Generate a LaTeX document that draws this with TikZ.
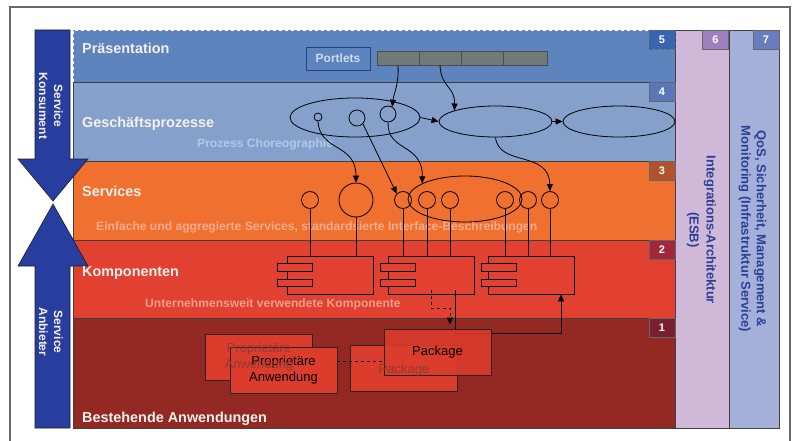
\documentclass[tikz,border=0pt]{standalone}
\usepackage{fontspec}
\setmainfont{Liberation Sans}
\usetikzlibrary{shapes.geometric,arrows.meta}
\definecolor{frameg}{RGB}{105,105,105}
\definecolor{lfive}{RGB}{94,132,190}
\definecolor{lfour}{RGB}{134,160,204}
\definecolor{lthree}{RGB}{240,112,48}
\definecolor{ltwo}{RGB}{226,64,48}
\definecolor{lone}{RGB}{148,40,34}
\definecolor{csix}{RGB}{208,184,216}
\definecolor{cseven}{RGB}{164,176,218}
\definecolor{barblue}{RGB}{40,62,158}
\definecolor{numfive}{RGB}{56,100,176}
\definecolor{numfour}{RGB}{92,118,186}
\definecolor{numthree}{RGB}{176,82,44}
\definecolor{numtwo}{RGB}{160,40,56}
\definecolor{numone}{RGB}{120,32,48}
\definecolor{numsix}{RGB}{158,128,192}
\definecolor{numseven}{RGB}{104,124,190}
\definecolor{coltext}{RGB}{42,64,150}
\definecolor{labwhite}{RGB}{244,240,238}
\definecolor{subblue}{RGB}{182,198,232}
\definecolor{suborange}{RGB}{244,172,142}
\definecolor{subred}{RGB}{240,160,140}
\definecolor{cellgray}{RGB}{112,122,120}
\definecolor{portborder}{RGB}{40,66,120}
\definecolor{porttext}{RGB}{205,218,238}
\definecolor{appred}{RGB}{220,60,44}
\definecolor{ghosttext}{RGB}{136,58,50}
\definecolor{barline}{RGB}{30,30,40}
\tikzset{
  laybox/.style={draw=black!75, line width=0.6pt},
  lbl/.style={anchor=base west, inner sep=0pt, text=labwhite, font=\bfseries\fontsize{14.4}{16}\selectfont},
  sublbl/.style={anchor=base west, inner sep=0pt, font=\bfseries\fontsize{12.1}{14}\selectfont},
  numbox/.style={minimum width=26pt, minimum height=19pt, inner sep=0pt, text=white, font=\bfseries\fontsize{11}{11}\selectfont, draw=black!60, line width=0.4pt},
  circ/.style={circle, draw, line width=0.8pt, inner sep=0pt},
  oval/.style={ellipse, draw, line width=0.8pt, inner sep=0pt},
  comp/.style={draw, rectangle, line width=0.8pt, minimum width=86pt, minimum height=38pt, inner sep=0pt},
  tabbox/.style={draw, fill=ltwo, line width=0.8pt, minimum width=35pt, minimum height=7.5pt, inner sep=0pt},
  cell/.style={draw=black!70, fill=cellgray, line width=0.6pt, minimum height=14pt, inner sep=0pt},
  conn/.style={line width=0.8pt, -{Triangle[length=7pt,width=6pt]}},
  appbox/.style={draw=black!85, line width=0.8pt, fill=appred, minimum width=107pt, minimum height=46pt, inner sep=0pt, align=center, font=\fontsize{13}{16}\selectfont},
  ghost/.style={align=center, text=ghosttext, text opacity=0.9, inner sep=0pt, font=\fontsize{13}{16}\selectfont},
  sidetext/.style={rotate=-90, align=center, inner sep=0pt},
}
\begin{document}
\begin{tikzpicture}[x=1pt,y=-1pt]
\useasboundingbox (0,0) rectangle (794,441);
\fill[white] (0,0) rectangle (794,441);
% outer frame
\draw[frameg, line width=1.5pt] (10,450) -- (10,7) -- (790,7) -- (790,450);
% layers
\fill[lfive] (73,30) rectangle (675,82);
\draw[white, dashed, line width=0.6pt] (73,82) -- (73,30) -- (675,30);
\draw[laybox] (73,82) -- (675,82);
\draw[laybox, fill=lfour] (73,82) rectangle (675,161);
\draw[laybox, fill=lthree] (73,161) rectangle (675,240);
\draw[laybox, fill=ltwo] (73,240) rectangle (675,318);
\draw[laybox, fill=lone] (73,318) rectangle (675,428);
% columns
\draw[laybox, fill=csix] (675,30) rectangle (729,428);
\draw[laybox, fill=cseven] (729,30) rectangle (779,428);
% number boxes
\node[numbox, fill=numfive, dashed] (n5) at (662,40) {5};
\node[numbox, fill=numfour] (n4) at (662,92) {4};
\node[numbox, fill=numthree] (n3) at (662,171) {3};
\node[numbox, fill=numtwo] (n2) at (662,249.5) {2};
\node[numbox, fill=numone] (n1) at (662,328) {1};
\node[numbox, fill=numsix] (n6) at (715.5,39.5) {6};
\node[numbox, fill=numseven] (n7) at (766,39.5) {7};
% left arrows
\filldraw[fill=barblue, draw=barline, line width=0.6pt] (35,30) -- (70,30) -- (70,159) -- (88,159) -- (53,201) -- (18,159) -- (35,159) -- cycle;
\filldraw[fill=barblue, draw=barline, line width=0.6pt] (53,204) -- (88,266) -- (70,266) -- (70,428) -- (35,428) -- (35,266) -- (18,266) -- cycle;
\node[sidetext, text=labwhite, font=\bfseries\fontsize{12}{15}\selectfont] (konsument) at (51,106) {Service\\Konsument};
\node[sidetext, text=labwhite, font=\bfseries\fontsize{12}{15}\selectfont] (anbieter) at (51,332) {Service\\Anbieter};
% column texts
\node[sidetext, text=coltext, font=\bfseries\fontsize{13}{17}\selectfont] (esb) at (701.5,230) {Integrations-Architektur\\(ESB)};
\node[sidetext, text=coltext, font=\bfseries\fontsize{13}{15.5}\selectfont] (qos) at (752.5,229) {QoS, Sicherheit, Management \&\\Monitoring (Infrastruktur Service)};
% layer labels
\node[lbl] (tpraes) at (82,54) {Präsentation};
\node[lbl] (tgesch) at (82,127) {Geschäftsprozesse};
\node[lbl] (tserv) at (82,196) {Services};
\node[lbl] (tkomp) at (82,276) {Komponenten};
\node[lbl] (tbest) at (82,422) {Bestehende Anwendungen};
\node[sublbl, text=subblue] (tchor) at (197,147.5) {Prozess Choreographie};
\node[sublbl, text=suborange] (tein) at (96,230) {Einfache und aggregierte Services, standardsierte Interface-Beschreibungen};
\node[sublbl, text=subred] (tunt) at (145,307.5) {Unternehmensweit verwendete Komponente};
% presentation layer
\node[draw=portborder, fill=lfive, line width=0.8pt, minimum width=64pt, minimum height=23pt, inner sep=0pt, text=porttext, font=\bfseries\fontsize{12}{12}\selectfont] (portlets) at (338,58.5) {Portlets};
\node[cell, minimum width=42pt] (g1) at (398,58) {};
\node[cell, minimum width=42pt] (g2) at (440,58) {};
\node[cell, minimum width=42pt] (g3) at (482,58) {};
\node[cell, minimum width=44pt] (g4) at (525,58) {};
% process layer
\node[oval, minimum width=130pt, minimum height=39pt] (E1) at (355,117.5) {};
\node[oval, minimum width=113pt, minimum height=31pt] (E2) at (495.5,121.5) {};
\node[oval, minimum width=112pt, minimum height=31pt] (E3) at (619,121.5) {};
\node[circ, minimum size=8pt] (c1) at (318,117) {};
\node[circ, minimum size=16pt] (c2) at (357,118) {};
\node[circ, minimum size=16pt] (c3) at (388,114) {};
% services layer
\node[oval, minimum width=114pt, minimum height=46pt] (bigE) at (465,199) {};
\node[circ, minimum size=17pt] (s1) at (310,200) {};
\node[circ, minimum size=34pt] (s2) at (356,200) {};
\node[circ, minimum size=17pt] (s3) at (403,200) {};
\node[circ, minimum size=17pt] (s4) at (427,200) {};
\node[circ, minimum size=17pt] (s5) at (450,200) {};
\node[circ, minimum size=17pt] (s6) at (505,200) {};
\node[circ, minimum size=17pt] (s7) at (528,200) {};
\node[circ, minimum size=17pt] (s8) at (550,200) {};
% components
\node[comp] (K1) at (330,275) {};
\node[comp] (K2) at (431,275) {};
\node[comp] (K3) at (531.5,275) {};
\foreach \k/\x in {K1/294.5,K2/397.5,K3/498.5}{
  \node[tabbox] (\k ta) at (\x,267.5) {};
  \node[tabbox] (\k tb) at (\x,283) {};
}
\foreach \s/\k in {s1/K1,s2/K1,s3/K2,s4/K2,s5/K2,s6/K3,s7/K3,s8/K3}{
  \draw[line width=0.8pt] (\s.south) -- (\s.south |- \k.north);
}
% arrows
\draw[conn] (g1.south) .. controls (399,85) and (394,92) .. (c3.60);
\draw[conn] (g2.south) .. controls (441,88) and (455,86) .. (E2.165);
\draw[conn] (E1.east) -- (E2.west);
\draw[conn] (E2.east) -- (E3.west);
\draw[conn] (c1.south) .. controls (320,152) and (356,143) .. (s2.north);
\draw[conn] (c2.south east) -- (s3.north west);
\draw[conn] (c3.south) .. controls (387,152) and (423,143) .. (bigE.160);
\draw[conn] (E2.south) .. controls (499,167) and (549,150) .. (s8.north);
% connection K2 -> K3 (partly behind the front package)
\coordinate (soStart) at (455,290);
\coordinate (soBend) at (561,333);
\draw[conn] (soStart) |- (soBend) -- (soBend |- K3.south);
% existing applications
\node[appbox] (propB) at (259,357) {};
\node[appbox] (propF) at (283.5,370.5) {Proprietäre\\Anwendung};
\node[appbox] (pkgB) at (404,368) {};
\node[appbox, fill opacity=0.88, text opacity=1] (pkgF) at (437.5,352) {Package};
\node[ghost] (propBt) at (259,357) {Proprietäre\\Anwendung};
\node[ghost] (pkgBt) at (404,370) {Package};
\coordinate (dl) at (337,361);
\draw[dashed, line width=0.7pt] (propF.east |- dl) -- (pkgF.west |- dl);
% dashed connection K2 -> package
\coordinate (dsStart) at (431,290);
\coordinate (dsBend) at (450,308);
\draw[conn, dashed] (dsStart) |- (dsBend) -- ([yshift=4pt]dsBend |- pkgF.north);
\end{tikzpicture}
\end{document}
